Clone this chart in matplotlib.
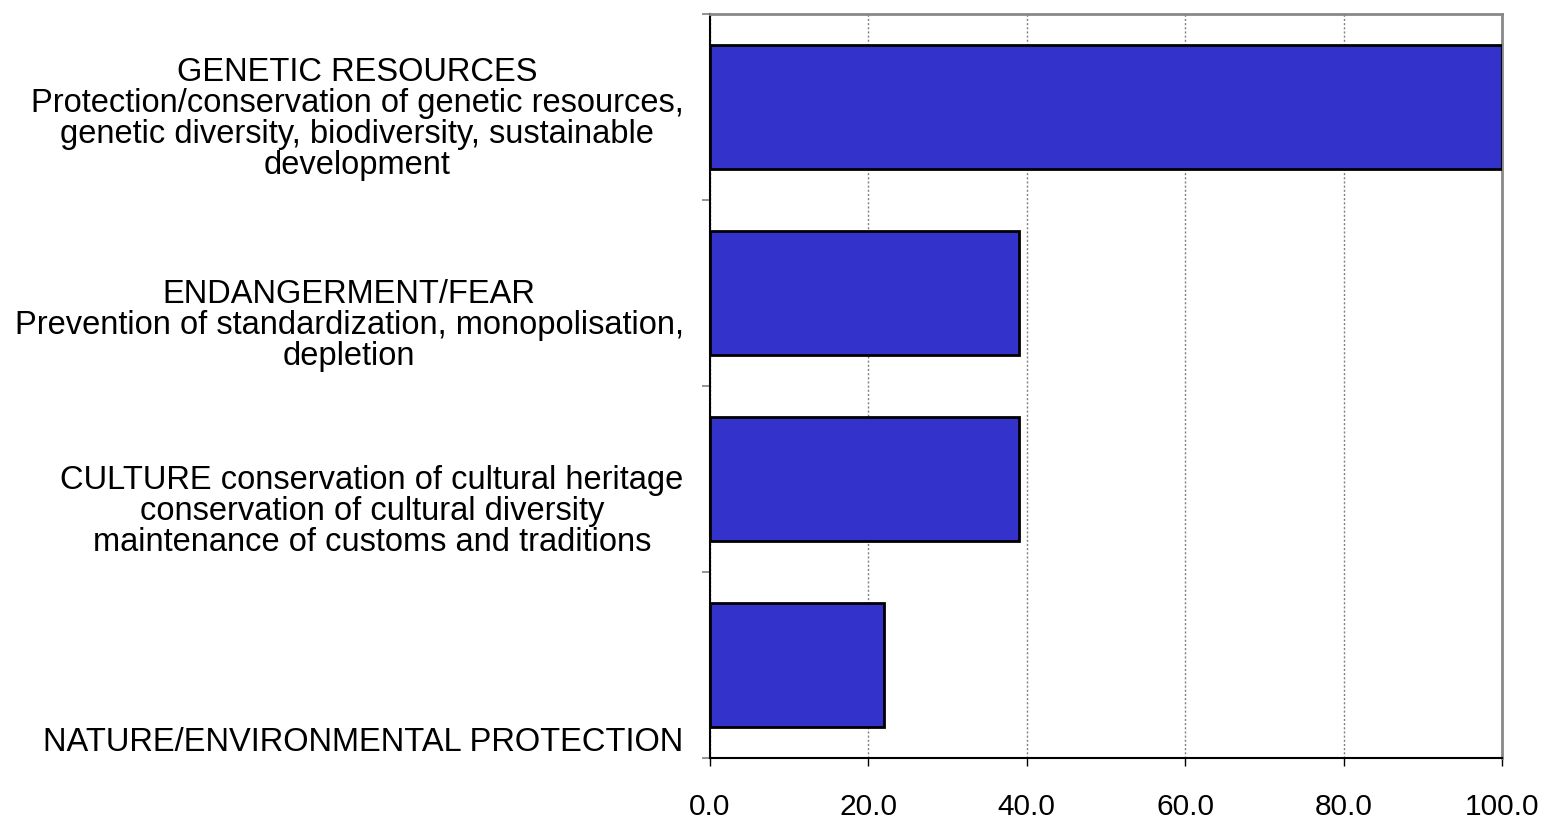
import matplotlib
matplotlib.use('Agg')
import matplotlib.pyplot as plt
import numpy as np

plt.rcParams['font.family'] = ['Liberation Sans', 'DejaVu Sans']

categories = [
    'GENETIC RESOURCES\nProtection/conservation of genetic resources,\ngenetic diversity, biodiversity, sustainable\ndevelopment',
    'ENDANGERMENT/FEAR\nPrevention of standardization, monopolisation,\ndepletion',
    'CULTURE conservation of cultural heritage\nconservation of cultural diversity\nmaintenance of customs and traditions',
    'NATURE/ENVIRONMENTAL PROTECTION',
]
values = [100.0, 39.0, 39.0, 22.0]
x_ticks = [0, 20, 40, 60, 80, 100]
x_tick_labels = ['0.0', '20.0', '40.0', '60.0', '80.0', '100.0']

# vertical placement of each label (data units, offset from bar centre)
label_offsets = [0.065, 0.176, 0.176, 0.416]

fig = plt.figure(figsize=(15.46, 8.19), dpi=100)
ax = fig.add_axes([710 / 1546, 1 - 758 / 819, 792 / 1546, 744 / 819])

pos = np.arange(len(categories))
ax.barh(pos, values, height=0.67, color='#3333cc', edgecolor='black', linewidth=2, zorder=3)

ax.set_xlim(0, 100)
ax.set_ylim(len(categories) - 0.5, -0.5)

ax.set_xticks(x_ticks)
ax.set_xticklabels(x_tick_labels, fontsize=21.5)
ax.set_yticks(np.arange(len(categories) + 1) - 0.5)
ax.set_yticklabels([])
ax.tick_params(axis='y', length=6, color='#808080', width=1.2)
ax.tick_params(axis='x', length=6, color='black', width=1, pad=19)

ax.xaxis.grid(True, linestyle=(0, (1.5, 1.5)), color='#808080', linewidth=1, zorder=0)

for side in ['top', 'right']:
    ax.spines[side].set_color('#888888')
    ax.spines[side].set_linewidth(2)
ax.spines['left'].set_color('black')
ax.spines['left'].set_linewidth(1.5)
ax.spines['bottom'].set_color('black')
ax.spines['bottom'].set_linewidth(1.5)

for i, lab in enumerate(categories):
    ax.annotate(lab, xy=(0, pos[i] + label_offsets[i]), xycoords=('axes fraction', 'data'),
                xytext=(-19, 0), textcoords='offset points',
                ha='right', va='center', multialignment='center', fontsize=23.5,
                linespacing=1.0)

fig.savefig('out.png', dpi=100)
